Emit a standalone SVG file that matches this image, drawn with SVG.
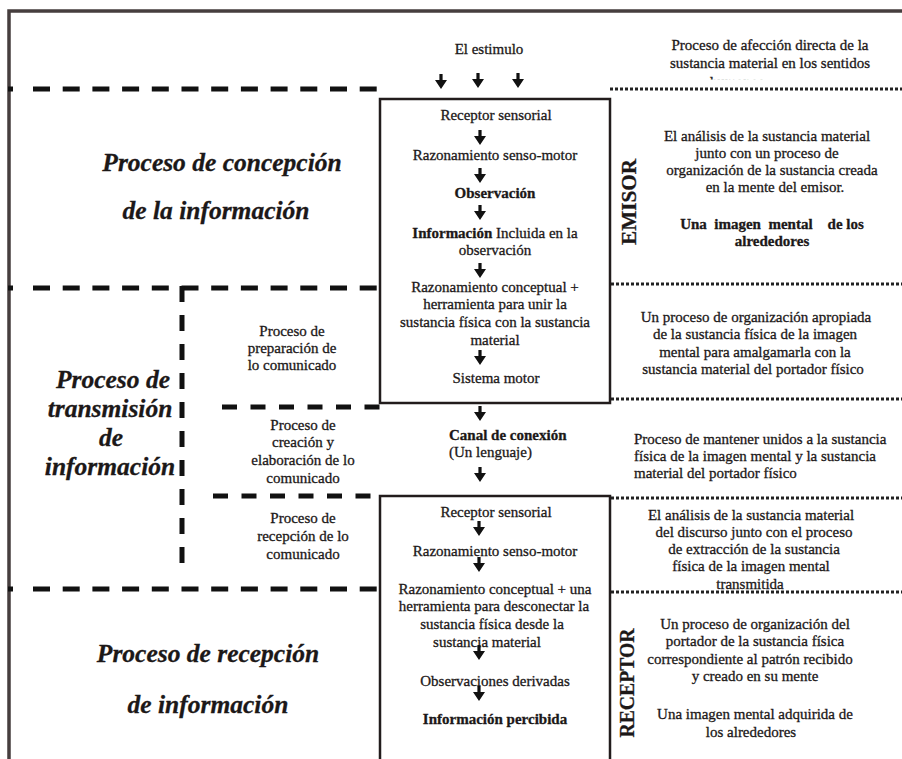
<svg xmlns="http://www.w3.org/2000/svg" xmlns:xlink="http://www.w3.org/1999/xlink" width="902" height="759" viewBox="0 0 902 759">
  <style>
    text { font-family: "Liberation Serif", "Times New Roman", serif; fill: #1c1818; stroke: #1c1818; stroke-width: 0.3px; }
    .t { font-size: 15px; }
    .c { text-anchor: middle; }
    .b { font-weight: bold; }
    .big { font-size: 25.5px; font-weight: bold; font-style: italic; text-anchor: middle; }
    .side { font-size: 22px; font-weight: bold; text-anchor: middle; }
    .frame { fill: none; stroke: #463e3e; stroke-width: 3.5; }
    .box { fill: none; stroke: #221c1c; stroke-width: 2.5; }
    .dash { fill: none; stroke: #111; stroke-width: 5; stroke-dasharray: 17 12.7; }
    .dash2 { fill: none; stroke: #111; stroke-width: 5; stroke-dasharray: 15 13.5; }
    .vdash { fill: none; stroke: #111; stroke-width: 5; stroke-dasharray: 16 13; }
    .stub { fill: none; stroke: #111; stroke-width: 5; }
    .dot { fill: none; stroke: #222; stroke-width: 3; stroke-dasharray: 3 2; }
  </style>
  <defs>
    <path id="arr" d="M-1.6,0 H1.6 V6 H6 L0,15 L-6,6 H-1.6 Z" fill="#111"/>
    <clipPath id="cutLine">
      <rect x="640" y="60" width="200" height="19.5"/>
    </clipPath>
  </defs>

  <rect width="902" height="759" fill="#ffffff"/>

  <!-- outer frame: top and left edges -->
  <path class="frame" d="M9,759 V11 H902"/>

  <!-- section separators -->
  <g id="separators">
    <!-- left, bold dashed -->
    <path class="stub" d="M8,89 H13"/>
    <path class="dash" d="M33,89 H380"/>
    <path class="stub" d="M8,288 H13"/>
    <path class="dash" d="M33,288 H380"/>
    <path class="stub" d="M8,589 H13"/>
    <path class="dash" d="M33,589 H380"/>
    <path class="dash2" d="M222,407 H380"/>
    <path class="dash2" d="M213,496 H380"/>
    <path class="vdash" d="M182,286 V570"/>
    <!-- right, dotted -->
    <path class="dot" d="M610,89 H902"/>
    <path class="dot" d="M611,284 H902"/>
    <path class="dot" d="M611,399 H902"/>
    <path class="dot" d="M611,498 H902"/>
    <path class="dot" d="M611,592 H902"/>
  </g>

  <!-- stage titles -->
  <g id="stage-concepcion">
    <text class="big" x="222" y="171">Proceso de concepción</text>
    <text class="big" x="216" y="219">de la información</text>
  </g>
  <g id="stage-transmision">
    <text class="big" x="113" y="388">Proceso de</text>
    <text class="big" x="110" y="417">transmisión</text>
    <text class="big" x="111" y="446">de</text>
    <text class="big" x="110" y="475">información</text>
  </g>
  <g id="stage-recepcion">
    <text class="big" x="208" y="662">Proceso de recepción</text>
    <text class="big" x="208" y="713">de información</text>
  </g>

  <!-- sub-stages of transmission -->
  <g id="sub-preparacion">
    <text class="t c" x="292" y="336">Proceso de</text>
    <text class="t c" x="292" y="353">preparación de</text>
    <text class="t c" x="292" y="370">lo comunicado</text>
  </g>
  <g id="sub-creacion">
    <text class="t c" x="303" y="430">Proceso de</text>
    <text class="t c" x="303" y="447">creación y</text>
    <text class="t c" x="303" y="465">elaboración de lo</text>
    <text class="t c" x="303" y="483">comunicado</text>
  </g>
  <g id="sub-recepcion">
    <text class="t c" x="303" y="523">Proceso de</text>
    <text class="t c" x="303" y="541">recepción de lo</text>
    <text class="t c" x="303" y="559">comunicado</text>
  </g>

  <!-- stimulus -->
  <g id="stimulus">
    <text class="t c" x="489" y="54">El estimulo</text>
  </g>

  <!-- sender box -->
  <g id="emisor">
    <rect class="box" x="380" y="99" width="230" height="304"/>
    <text class="t c" x="496" y="120">Receptor sensorial</text>
    <text class="t c" x="495" y="160">Razonamiento senso-motor</text>
    <text class="t c b" x="495" y="198">Observación</text>
    <text class="t c" x="495" y="238"><tspan class="b">Información</tspan> Incluida en la</text>
    <text class="t c" x="495" y="255">observación</text>
    <text class="t c" x="495" y="292">Razonamiento conceptual +</text>
    <text class="t c" x="495" y="309">herramienta para unir la</text>
    <text class="t c" x="495" y="327">sustancia física con la sustancia</text>
    <text class="t c" x="495" y="345">material</text>
    <text class="t c" x="496" y="383">Sistema motor</text>
    <text class="side" transform="translate(636,202) rotate(-90)" textLength="86" lengthAdjust="spacingAndGlyphs">EMISOR</text>
  </g>

  <!-- channel -->
  <g id="canal">
    <text class="t b" x="449" y="440">Canal de conexión</text>
    <text class="t" x="449" y="457">(Un lenguaje)</text>
  </g>

  <!-- receiver box -->
  <g id="receptor">
    <path class="box" d="M380,762 V496 H610 V762"/>
    <text class="t c" x="496" y="517">Receptor sensorial</text>
    <text class="t c" x="495" y="556">Razonamiento senso-motor</text>
    <text class="t c" x="495" y="594">Razonamiento conceptual + una</text>
    <text class="t c" x="494" y="611">herramienta para desconectar la</text>
    <text class="t c" x="492" y="629">sustancia física desde la</text>
    <text class="t c" x="487" y="647">sustancia material</text>
    <text class="t c" x="495" y="686">Observaciones derivadas</text>
    <text class="t c b" x="495" y="724">Información percibida</text>
    <text class="side" transform="translate(634,683) rotate(-90)" textLength="109" lengthAdjust="spacingAndGlyphs">RECEPTOR</text>
  </g>

  <!-- descriptions -->
  <g id="desc-afeccion">
    <text class="t c" x="770" y="50">Proceso de afección directa de la</text>
    <text class="t c" x="770" y="68">sustancia material en los sentidos</text>
    <text class="t c" x="737" y="87" clip-path="url(#cutLine)">humanos</text>
  </g>
  <g id="desc-analisis">
    <text class="t c" x="767" y="141">El análisis de la sustancia material</text>
    <text class="t c" x="767" y="158">junto con un proceso de</text>
    <text class="t c" x="772" y="175">organización de la sustancia creada</text>
    <text class="t c" x="775" y="192">en la mente del emisor.</text>
    <text class="t c b" x="772" y="229" xml:space="preserve">Una  imagen  mental    de los</text>
    <text class="t c b" x="772" y="246">alrededores</text>
  </g>
  <g id="desc-organizacion">
    <text class="t c" x="756" y="322">Un proceso de organización apropiada</text>
    <text class="t c" x="755" y="339">de la sustancia física de la imagen</text>
    <text class="t c" x="755" y="357">mental para amalgamarla con la</text>
    <text class="t c" x="753" y="374">sustancia material del portador físico</text>
  </g>
  <g id="desc-mantener">
    <text class="t" x="634" y="444">Proceso de mantener unidos a la sustancia</text>
    <text class="t" x="634" y="461">física de la imagen mental y la sustancia</text>
    <text class="t" x="634" y="478">material del portador físico</text>
  </g>
  <g id="desc-extraccion">
    <text class="t c" x="751" y="520">El análisis de la sustancia material</text>
    <text class="t c" x="754" y="537">del discurso junto con el proceso</text>
    <text class="t c" x="754" y="554">de extracción de la sustancia</text>
    <text class="t c" x="751" y="571">física de la imagen mental</text>
    <text class="t c" x="750" y="589">transmitida</text>
  </g>
  <g id="desc-receptor">
    <text class="t c" x="755" y="629">Un proceso de organización del</text>
    <text class="t c" x="755" y="646">portador de la sustancia física</text>
    <text class="t c" x="750" y="664">correspondiente al patrón recibido</text>
    <text class="t c" x="755" y="681">y creado en su mente</text>
    <text class="t c" x="755" y="719">Una imagen mental adquirida de</text>
    <text class="t c" x="751" y="737">los alrededores</text>
  </g>

  <!-- flow arrows -->
  <g id="connectors">
    <use xlink:href="#arr" x="441" y="74"/>
    <use xlink:href="#arr" x="478" y="73"/>
    <use xlink:href="#arr" x="518" y="73"/>
    <use xlink:href="#arr" x="480" y="130"/>
    <use xlink:href="#arr" x="480" y="168"/>
    <use xlink:href="#arr" x="480" y="205"/>
    <use xlink:href="#arr" x="480" y="263"/>
    <use xlink:href="#arr" x="480" y="350"/>
    <use xlink:href="#arr" x="480" y="406"/>
    <use xlink:href="#arr" x="480" y="467"/>
    <use xlink:href="#arr" x="479" y="521"/>
    <use xlink:href="#arr" x="479" y="557"/>
    <use xlink:href="#arr" x="479" y="645"/>
    <use xlink:href="#arr" x="479" y="686"/>
  </g>
</svg>
